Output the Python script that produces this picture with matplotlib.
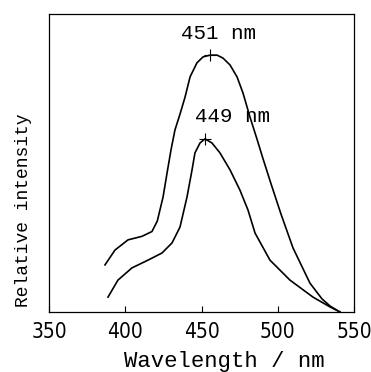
from matplotlib import pyplot as plt

# upper curve (peak 451 nm)
wl_a = [386.7, 393.3, 401.8, 411.0, 417.5, 421.0, 424.8, 427.4, 430.0, 432.6, 435.9,
        439.2, 442.5, 447.0, 451.0, 455.6, 460.2, 464.1, 468.7, 473.3, 477.2, 481.8,
        486.4, 490.3, 495.6, 502.1, 510.0, 521.1, 529.0, 534.3, 540.8]
int_a = [15.8, 20.8, 24.2, 25.4, 27.0, 30.5, 38.6, 46.6, 54.4, 61.1, 66.4,
         72.1, 78.9, 83.6, 85.6, 86.2, 86.2, 85.2, 82.9, 78.9, 73.5, 65.4,
         58.0, 51.5, 43.0, 32.9, 21.5, 9.7, 4.4, 2.0, 0.0]

# lower curve (peak 449 nm)
wl_b = [388.7, 395.2, 404.4, 414.9, 424.1, 430.7, 435.9, 440.5, 443.8, 445.7, 449.0,
        452.3, 456.9, 462.1, 468.7, 475.2, 480.5, 485.1, 494.9, 508.0, 523.1, 534.3, 540.8]
int_b = [5.0, 10.7, 14.8, 17.4, 19.8, 23.2, 28.5, 38.6, 47.7, 53.4, 56.7,
         58.1, 56.7, 53.4, 47.7, 40.9, 34.2, 26.5, 17.4, 10.7, 5.0, 1.7, 0.0]

peaks_wl = [455.6, 452.3]
peaks_int = [86.2, 58.1]
peak_labels = ['451 nm', '449 nm']

xticks = [350, 400, 450, 500, 550]

mono = ['Liberation Mono', 'DejaVu Sans Mono']

fig = plt.figure(figsize=(3.71, 3.72), dpi=100)
ax = fig.add_axes([49/371, 1-312/372, 305/371, 298/372])

ax.plot(wl_a, int_a, color='black', lw=1.2)
ax.plot(wl_b, int_b, color='black', lw=1.2)
ax.plot(peaks_wl, peaks_int, '+', color='black', ms=9, mew=0.8)

ax.text(461, 93.5, peak_labels[0], ha='center', va='center', fontsize=15, family=mono)
ax.text(470, 65.5, peak_labels[1], ha='center', va='center', fontsize=15, family=mono)

ax.set_xlim(350, 550)
ax.set_ylim(0, 100)
ax.set_xticks(xticks)
ax.set_xticklabels([str(t) for t in xticks], family='DejaVu Sans',
                   fontstretch='condensed', fontsize=15)
ax.set_yticks([])
ax.tick_params(axis='x', direction='in', length=4, width=0.8, pad=7)
for s in ax.spines.values():
    s.set_linewidth(0.9)

ax.set_xlabel('Wavelength / nm', family=mono, fontsize=16, va='baseline')
ax.xaxis.set_label_coords(0.574, -0.186)
ax.set_ylabel('Relative intensity', family=mono, fontsize=13)
ax.yaxis.set_label_coords(-0.056, 0.342)

plt.savefig('out.png', dpi=100)
